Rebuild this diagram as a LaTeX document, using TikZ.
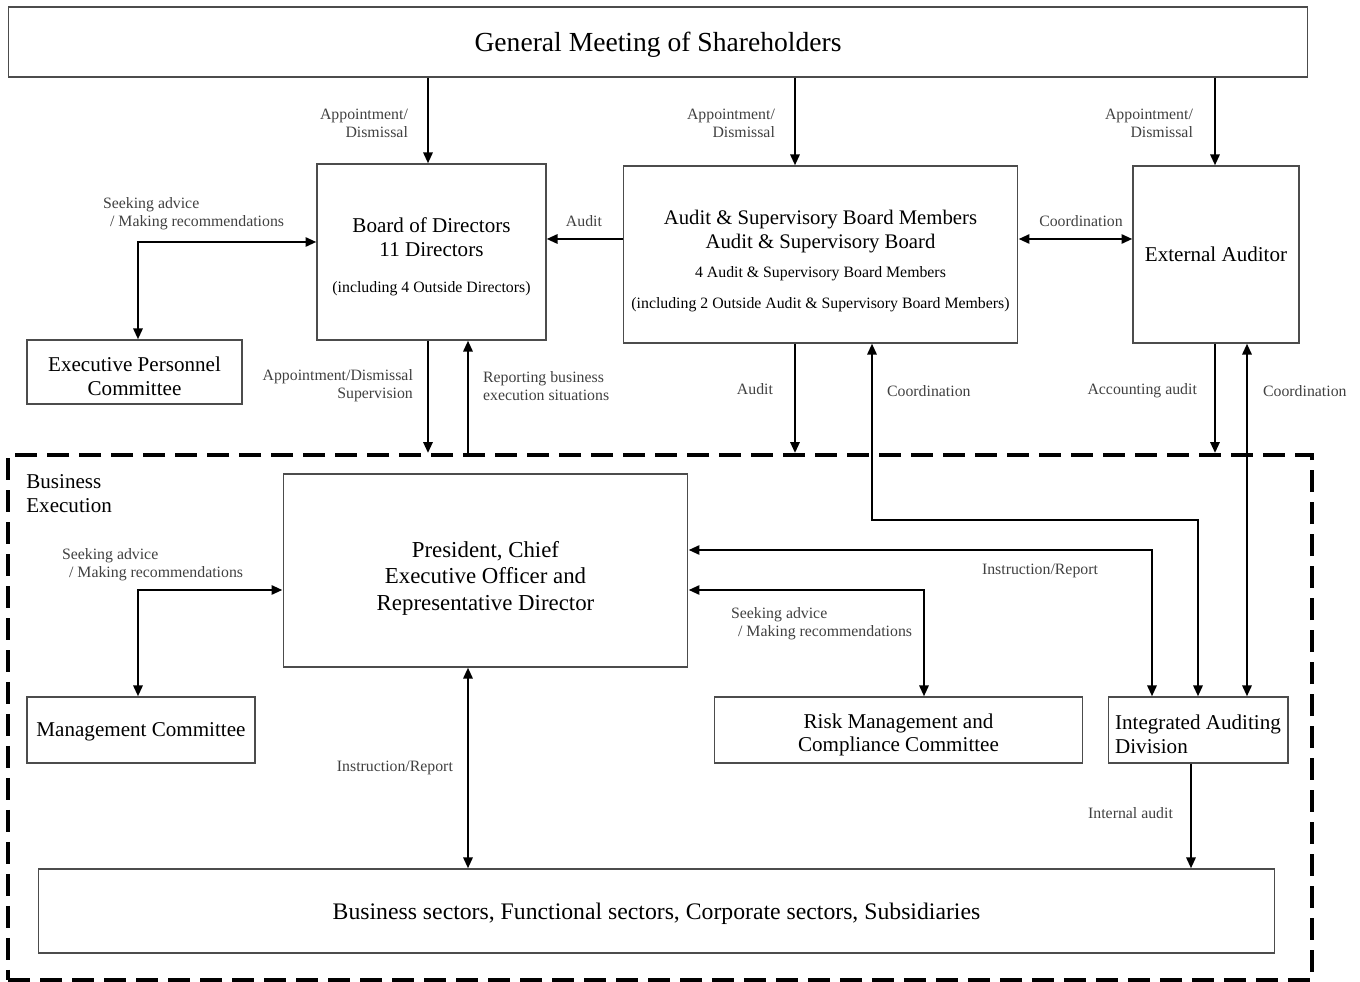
\documentclass[tikz,border=0pt]{standalone}
\usepackage{fontspec}
\setmainfont{Liberation Serif}
\usetikzlibrary{arrows.meta}
\tikzset{
  org box/.style={draw=black!70,line width=.6pt,inner sep=2pt,align=center,font=\fontsize{12}{13.6}\selectfont},
  org flow/.style={line width=1.6pt,-{Triangle[length=2.2mm,width=1.8mm]}},
  org both/.style={line width=1.6pt,{Triangle[length=2.2mm,width=1.8mm]}-{Triangle[length=2.2mm,width=1.8mm]}},
  org note/.style={text=black!75,font=\fontsize{9}{10.2}\selectfont,inner sep=1pt},
  org frame/.style={draw,line width=2.2pt,dash pattern=on 0.44cm off 0.2cm}
}
\newcommand{\orgsmall}{\fontsize{9}{11}\selectfont}
\newcommand{\orglower}[1]{\rule{0pt}{#1}}

\begin{document}
\begin{tikzpicture}[x=0.02cm,y=-0.02cm]
  \useasboundingbox (0,0) rectangle (1360,982);
  % columns and rows used by the connectors
  \coordinate (colA) at (428,0);  \coordinate (colB) at (468,0);
  \coordinate (colC) at (795,0);  \coordinate (colD) at (872,0);
  \coordinate (colE) at (1215,0); \coordinate (colF) at (1247,0);
  \coordinate (colG) at (1152,0); \coordinate (colI) at (924,0);
  \coordinate (colJ) at (138,0);  \coordinate (colK) at (1191,0);
  \coordinate (rowAudit) at (0,239); \coordinate (rowEpc) at (0,242);
  \coordinate (rowCoord) at (0,520); \coordinate (rowInstr) at (0,550);
  \coordinate (rowAdvice) at (0,590);
  % boxes
  \node[org frame,minimum width=26.08cm,minimum height=10.5cm] (exec) at (660,717.5) {};
  \node[org box,minimum width=26cm,minimum height=1.4cm,font=\fontsize{15.7}{17}\selectfont,text depth=0pt] (gm) at (658,42) {General Meeting of Shareholders};
  \node[org box,minimum width=4.58cm,minimum height=3.52cm] (bod) at (431.5,252)
    {\orglower{14pt}Board of Directors\\11 Directors\\[7pt]{\orgsmall(including 4 Outside Directors)}};
  \node[org box,minimum width=7.9cm,minimum height=3.54cm,font=\fontsize{11.8}{13.6}\selectfont] (asb) at (820.5,254.5)
    {\orglower{16pt}Audit \& Supervisory Board Members\\Audit \& Supervisory Board\\[3pt]{\orgsmall 4 Audit \& Supervisory Board Members}\\[4pt]{\orgsmall(including 2 Outside Audit \& Supervisory Board Members)}};
  \node[org box,minimum width=3.32cm,minimum height=3.54cm,text depth=0pt] (ext) at (1216,254.5) {External Auditor};
  \node[org box,minimum width=4.3cm,minimum height=1.28cm] (epc) at (134.5,372) {\orglower{13pt}Executive Personnel\\Committee};
  \node[org box,minimum width=8.1cm,minimum height=3.86cm,font=\fontsize{13}{15}\selectfont] (pres) at (485.5,570.5)
    {\orglower{18pt}President, Chief\\Executive Officer and\\Representative Director};
  \node[org box,minimum width=4.56cm,minimum height=1.32cm,text depth=0pt] (mgmt) at (141,730) {Management Committee};
  \node[org box,minimum width=7.38cm,minimum height=1.32cm] (risk) at (898.5,730) {\orglower{14pt}Risk Management and\\Compliance Committee};
  \node[org box,minimum width=3.6cm,minimum height=1.32cm,align=left] (iad) at (1198,730) {\orglower{13pt}Integrated Auditing\\Division};
  \node[org box,minimum width=24.74cm,minimum height=1.68cm,font=\fontsize{13.5}{15}\selectfont,text depth=0pt] (sect) at (656.5,911)
    {Business sectors, Functional sectors, Corporate sectors, Subsidiaries};
  \node[anchor=west,align=left,font=\fontsize{12}{13.6}\selectfont,inner sep=0pt] (execlbl) at (26,494) {Business\\Execution};
  % appointment from the general meeting
  \draw[org flow] (gm.south -| colA) -- (bod.north -| colA);
  \draw[org flow] (gm.south -| colC) -- (asb.north -| colC);
  \draw[org flow] (gm.south -| colE) -- (ext.north -| colE);
  \node[org note,anchor=east,align=right] at (410,123) {Appointment/\\Dismissal};
  \node[org note,anchor=east,align=right] at (777,123) {Appointment/\\Dismissal};
  \node[org note,anchor=east,align=right] at (1195,123) {Appointment/\\Dismissal};
  % board level
  \draw[org flow] (asb.west |- rowAudit) -- (bod.east |- rowAudit);
  \node[org note] at (584,221) {Audit};
  \draw[org both] (asb.east |- rowAudit) -- (ext.west |- rowAudit);
  \node[org note] at (1081,221) {Coordination};
  \draw[org both] (epc.north -| colJ) |- (bod.west |- rowEpc);
  \node[org note,anchor=west,align=left] at (101,214) {Seeking advice\\\hspace{4pt}/ Making recommendations};
  % into business execution
  \draw[org flow] (bod.south -| colA) -- (exec.north -| colA);
  \draw[org flow] (exec.north -| colB) -- (bod.south -| colB);
  \node[org note,anchor=east,align=right] at (415,386) {Appointment/Dismissal\\Supervision};
  \node[org note,anchor=west,align=left] at (481,386) {Reporting business\\execution situations};
  \draw[org flow] (asb.south -| colC) -- (exec.north -| colC);
  \node[org note] at (755,389) {Audit};
  \draw[org both] (iad.north) |- (colD |- rowCoord) -- (asb.south -| colD);
  \node[org note,anchor=west] at (885,391) {Coordination};
  \draw[org flow] (ext.south -| colE) -- (exec.north -| colE);
  \node[org note,anchor=east] at (1199,391) {Accounting audit};
  \draw[org both] (iad.north -| colF) -- (ext.south -| colF);
  \node[org note,anchor=west] at (1261,391) {Coordination};
  % business execution
  \draw[org both] (iad.north -| colG) |- (pres.east |- rowInstr);
  \node[org note] at (1040,571) {Instruction/Report};
  \draw[org both] (risk.north -| colI) |- (pres.east |- rowAdvice);
  \node[org note,anchor=west,align=left] at (729,624) {Seeking advice\\\hspace{4pt}/ Making recommendations};
  \draw[org both] (mgmt.north -| colJ) |- (pres.west |- rowAdvice);
  \node[org note,anchor=west,align=left] at (60,565) {Seeking advice\\\hspace{4pt}/ Making recommendations};
  \draw[org both] (pres.south -| colB) -- (sect.north -| colB);
  \node[org note,anchor=east] at (455,768) {Instruction/Report};
  \draw[org flow] (iad.south -| colK) -- (sect.north -| colK);
  \node[org note,anchor=east] at (1175,813) {Internal audit};
\end{tikzpicture}
\end{document}
